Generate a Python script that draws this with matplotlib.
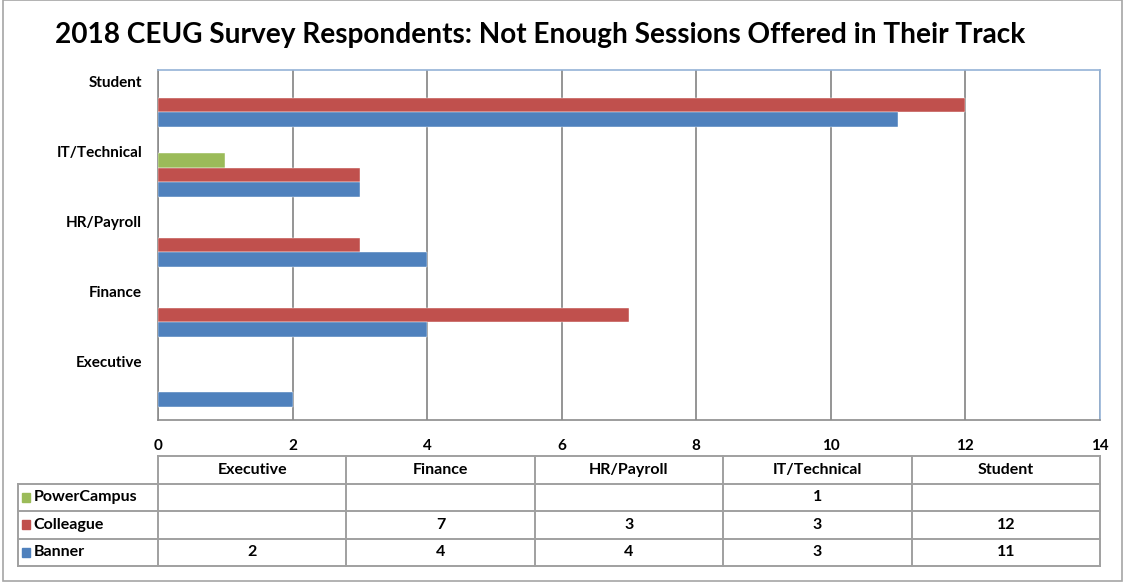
import numpy as np
import matplotlib
matplotlib.use('Agg')
import matplotlib.pyplot as plt
from matplotlib.patches import Rectangle

plt.rcParams['font.family'] = ['Lato', 'DejaVu Sans']
plt.rcParams['font.weight'] = 'bold'

# data
categories = ['Executive', 'Finance', 'HR/Payroll', 'IT/Technical', 'Student']
series_names = ['PowerCampus', 'Colleague', 'Banner']
powercampus = [None, None, None, 1, None]
colleague = [None, 7, 3, 3, 12]
banner = [2, 4, 4, 3, 11]
colors = ['#9BBB59', '#C0504D', '#4F81BD']
xticks = [0, 2, 4, 6, 8, 10, 12, 14]

W, H = 1129, 584
fig = plt.figure(figsize=(W / 100, H / 100), dpi=100)

# outer chart border
fig.patches.append(Rectangle((3 / W, 3 / H), 1119 / W, 1 - 3 / H, transform=fig.transFigure,
                             fill=False, edgecolor='#a6a6a6', linewidth=1.2))

fig.text(55 / W, 1 - 35 / H, '2018 CEUG Survey Respondents: Not Enough Sessions Offered in Their Track',
         fontsize=20.2, fontweight='bold', va='center', ha='left')

ax = fig.add_axes([158 / W, 1 - 420 / H, 942 / W, 350 / H])
ypos = np.arange(len(categories))
bh = 0.214
for k, (vals, col) in enumerate(zip([powercampus, colleague, banner], colors)):
    off = bh * (1 - k)
    for i, v in enumerate(vals):
        if v is not None:
            ax.barh(ypos[i] + off, v, height=bh, color=col, edgecolor='white', linewidth=0.3, zorder=3)

ax.set_xlim(0, 14)
ax.set_ylim(-0.5, len(categories) - 0.5)
ax.set_xticks(xticks)
ax.set_xticklabels([str(t) for t in xticks], fontsize=11, fontweight='bold')
ax.set_yticks(ypos + 0.33)
ax.set_yticklabels(categories, fontsize=11, fontweight='bold')
ax.tick_params(length=0)
ax.tick_params(axis='x', pad=14)
ax.tick_params(axis='y', pad=11.5)
ax.grid(axis='x', color='#8c8c8c', linewidth=1.3, zorder=0)
ax.spines['top'].set_color('#95b3d7')
ax.spines['right'].set_color('#95b3d7')
ax.spines['left'].set_color('#8c8c8c')
ax.spines['bottom'].set_color('#8c8c8c')
for s in ax.spines.values():
    s.set_linewidth(1.2)

# data table
tax = fig.add_axes([158 / W, 1 - 566 / H, 942 / W, 110 / H])
tax.set_xlim(0, 14)
tax.set_ylim(0, 4)
tax.axis('off')
colw = 14 / len(categories)
lc = '#a0a0a0'
lw = 1.4
legx = -140 / 942 * 14
# grid lines
for r in range(5):
    x0 = 0 if r == 4 else legx
    tax.plot([x0, 14], [r, r], color=lc, lw=lw, clip_on=False)
for c in range(len(categories) + 1):
    tax.plot([c * colw, c * colw], [0, 4], color=lc, lw=lw, clip_on=False)
tax.plot([legx, legx], [0, 3], color=lc, lw=lw, clip_on=False)

for c, cat in enumerate(categories):
    tax.text((c + 0.5) * colw, 3.5, cat, ha='center', va='center', fontsize=11.5, fontweight='bold')
for r, (name, vals, col) in enumerate(zip(series_names, [powercampus, colleague, banner], colors)):
    yc = 2.5 - r
    tax.add_patch(Rectangle((legx + 0.06, yc - 0.17), 0.12, 0.34, color=col, clip_on=False))
    tax.text(legx + 0.23, yc, name, ha='left', va='center', fontsize=11.5, fontweight='bold')
    for c, v in enumerate(vals):
        if v is not None:
            tax.text((c + 0.5) * colw, yc, str(v), ha='center', va='center', fontsize=11.5, fontweight='bold')

fig.savefig('out.png', dpi=100)
